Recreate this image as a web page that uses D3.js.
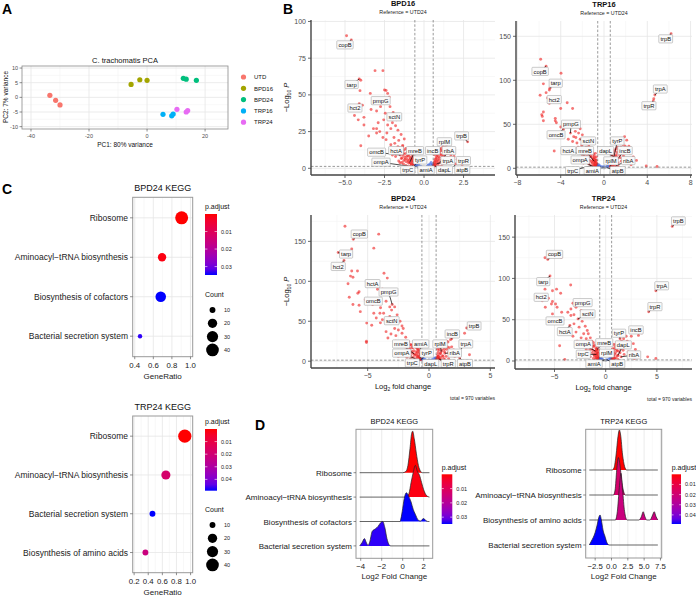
<!DOCTYPE html>
<html><head><meta charset="utf-8">
<script src="https://cdn.jsdelivr.net/npm/d3@7"></script>
<style>body{margin:0;background:#fff;} text{font-family:"Liberation Sans",Arial,Helvetica,sans-serif;}</style>
</head><body><svg id="c" width="696" height="598"></svg>
<script>
// ---------------- DATA ----------------
const pcaGroups = ["UTD","BPD16","BPD24","TRP16","TRP24"];
const pcaSampleGroup = ["UTD","UTD","UTD","BPD16","BPD16","BPD16","BPD24","BPD24","BPD24","TRP16","TRP16","TRP16","TRP24","TRP24","TRP24"];
const pcaPC1 = [-33.5,-31.5,-30,-5.5,-2.5,0,12.5,13.5,17,5.5,8.5,9,10.3,13.5,14];
const pcaPC2 = [0.7,-1,-2.6,4.4,6,5.8,6.5,6.2,5.8,-5.8,-6.3,-5.7,-4.1,-5,-4.5];
const pcaXTicks = [-40,-20,0,20];
const pcaYTicks = [-10,-5,0,5,10];

const FC_CUT = 0.58, P_CUT = 1.3;

const bpd16Points = [
[-4.9,90.3],[-4.6,87.4],[-3.1,66.5],[-2.6,66.5],[-4.1,60.8],[-4.0,60],[-4.05,52.9],[-3.4,51],[-2.5,53.3],[-2.4,53],[-2.3,51],[-2.2,48.5],[-4.1,44],[-3.9,43],[-4.4,36],[-3.8,34.7],[-4.16,33],[-3.8,29.5],[-3.35,40],[-3.0,39],[-3.0,27],[-3.2,27],[-3.0,24],[-2.8,25],[-2.75,42],[-2.45,37.5],[-2.2,34],[-2.3,29.5],[-2.1,27],[-2.0,31],[-1.8,29],[-1.65,26],[-1.45,23],[-1.9,21],[-1.6,19],[-1.25,20],[-4.0,15.4],[-2.4,19.5],[-2.1,16],[-1.65,14.7],[-1.35,14.7],[-1.15,13.5],[-0.95,12.5],[-2.6,45],[-2.15,42],[-1.95,38],[-2.55,33],[-2.9,31],[-1.75,33],[-2.35,24],[-2.6,21],[-3.5,22],[-1.85,17],
[-1.5,9],[-1.4,7],[-1.3,10],[-1.2,6],[-1.1,8],[-1.0,5],[-0.95,9],[-0.9,4],[-0.85,6.5],[-0.8,3],[-0.75,5],[-0.7,2],[-0.65,3.5],[-1.3,3],[-1.15,2],[-1.0,1.5],[-0.9,1],[-0.8,1.8],[-1.6,5],[-1.7,11],[-1.8,8],[-1.9,12],[-1.25,12.5],[-1.05,11],[-0.7,7],[-0.65,1.5],[-1.4,4],[-1.2,1],[-0.6,2.5],[-2.0,9],[-1.55,14],[-1.35,15.5],
[-0.62,1.6],[-0.66,2.8],[-0.72,4.2],[-0.78,5.5],[-0.84,3.2],[-0.88,7.5],[-0.92,5.8],[-0.98,3.6],[-1.02,8.4],[-1.08,6.2],[-1.12,4.4],[-1.18,10],[-1.22,7.4],[-1.28,5.2],[-1.32,8.8],[-1.38,11],[-1.44,6.6],[-1.48,12.2],[-1.52,3.8],[-1.58,10.4],[-0.68,6.4],[-0.74,8.2],[-0.8,10.2],[-0.86,1.4],
[-0.5,2],[-0.4,1.5],[-0.3,1.6],[-0.2,1.4],[0.2,1.5],[0.3,2.5],[0.4,3],[0.5,2],[0.45,4],[-0.45,3],[0.35,1.4],[-0.55,1.8],[-0.52,2.6],[-0.35,2.2],[0.55,2.8],[0.52,1.7],[0.25,2.0],
[-0.3,0.5],[0.1,0.3],[0.2,0.8],[-0.1,1],[0.0,0.6],[-0.4,0.9],[0.4,0.7],
[0.6,2],[0.65,4],[0.7,6],[0.75,3],[0.8,8],[0.85,5],[0.9,10],[0.95,7],[1.0,4],[1.05,12],[1.1,9],[1.15,6],[1.2,3],[1.25,11],[1.3,8],[1.35,14],[1.4,5],[1.5,10],[1.6,7],[1.7,9],[1.8,6],[0.7,1.5],[0.9,2],[1.1,1.5],[1.0,13],[0.85,11],[1.2,15],[1.45,12.5],[2.1,6.1],[2.4,2.5],[1.9,8],[2.0,3],[2.76,18],[1.22,19],
[0.62,1.6],[0.64,3.2],[0.68,5],[0.72,2.4],[0.76,7],[0.78,4.4],[0.82,9],[0.84,6],[0.88,3.4],[0.92,8],[0.96,11],[0.98,5.6],[1.02,9.6],[1.08,13.5],[1.12,7.6],[1.18,11.8],[1.22,8.8],[1.28,13],[1.32,5.4],[1.38,9.8],[1.42,16],[1.48,7.2],[1.55,11.5],[1.65,13.6],[0.66,9.2],[0.7,11.4]
];
const bpd16Labels = [
["copB",-5.0,84,-4.6,87.4],["tarp",-4.58,57,-4.1,60.8],["pmpG",-2.74,46,-2.6,45],["hct2",-4.37,41,-4.1,44],["sctN",-1.88,35,-1.95,38],
["omcB",-3.0,10.9,-1.5,9],["hctA",-1.77,12,-1.3,10],["mreB",-0.57,12,-0.9,4],["ompA",-2.72,4.1,-1.0,1.5],["tyrP",-0.25,5.6,-0.65,1.5],
["trpC",-1.03,-1.2,-0.7,2],["amiA",0.13,-1.2,0.6,2],["incB",0.55,12,0.9,10],["rplM",1.29,18,1.22,19],["ribA",1.58,12,1.0,4],
["trpA",1.5,5.2,0.8,3],["trpR",2.49,5.2,2.1,6.1],["dapL",1.29,-1.2,0.7,1.5],["atpB",2.42,-1.2,1.9,2],["trpB",2.38,22,2.76,18]
];

const trp16Points = [
[6.2,153],[4.7,83.3],[4.6,79],[4.55,76.5],
[-5.85,124],[-5.35,116],[-3.97,108],[-5.6,96],[-5.0,91],[-5.05,89],[-5.35,86],[-5.9,83],[-5.2,80],[-5.05,74],[-4.0,68],[-3.4,74.5],[-2.9,68],[-5.6,64],[-5.75,61],[-5.7,59],[-4.5,56.8],[-4.5,54],[-4.4,51.7],[-5.6,54],[-4.0,47],[-3.75,44.3],[-4.6,19.7],[-2.5,47.3],[-2.2,45],[-2.65,42],[-2.35,40],[-2.8,36],[-2.0,38],[-2.9,30.5],[-2.5,28.8],[-2.2,33],[-1.75,28.7],[-1.4,25],[-1.3,19.5],[-3.1,40],[-2.6,35],[-2.4,24],[-2.05,26],[-1.9,22],[-1.6,18],[-3.3,33],[-1.8,15],
[-1.5,12],[-1.3,9],[-1.2,14],[-1.1,6],[-1.0,10],[-0.95,4],[-0.9,8],[-0.85,2.5],[-0.8,6],[-0.75,3.5],[-0.7,1.8],[-0.65,5],[-1.4,5],[-1.2,3],[-1.0,2],[-0.9,12],[-1.6,8],[-1.7,11],[-1.35,16],[-1.05,17],[-0.75,9],[-0.62,2.2],[-2.0,14],[-1.9,6],
[-0.62,2],[-0.66,4],[-0.7,6.5],[-0.74,9],[-0.78,3],[-0.82,11],[-0.86,7],[-0.9,14],[-0.94,5],[-0.98,16],[-1.02,9],[-1.06,12],[-1.1,19],[-1.15,7.5],[-1.18,22],[-1.25,13],[-1.3,17],[-1.45,20],[-1.55,14],[-1.65,24],[-0.7,13],[-0.8,17],
[-0.5,2],[-0.4,3],[-0.3,1.8],[0.3,2],[0.4,3.5],[0.5,2.2],[-0.2,1.5],[0.2,1.6],[-0.55,2.5],[-0.5,4],[0.55,3],[0.52,4.5],[-0.1,1.6],[0.0,1.7],
[-0.2,0.5],[0.1,0.8],[0.0,0.3],
[0.6,2],[0.65,4],[0.7,6],[0.8,3],[0.85,9],[0.9,5],[1.0,12],[1.05,7],[1.1,3],[1.15,15],[1.2,10],[1.3,6],[1.4,18],[1.5,12],[1.6,8],[1.7,22],[1.8,14],[1.9,36],[2.1,32],[2.3,25],[2.0,20],[2.7,13],[3.0,9],[3.9,2.6],[4.9,2],[2.2,6],[2.5,4],[0.75,1.5],[1.0,1.8],[1.3,2.5],[2.4,17],[1.25,24],[1.55,28],
[0.62,2],[0.66,5],[0.7,8],[0.74,11],[0.78,6],[0.82,14],[0.86,3],[0.9,17],[0.95,10],[1.0,20],[1.05,14],[1.1,22],[1.15,6],[1.2,18],[1.25,12],[1.35,21],[1.45,15],[1.55,24],[1.65,17],[1.75,27],[1.85,18],[1.95,25],[0.7,15],[0.8,20]
];
const trp16Labels = [
["trpB",5.7,147,6.2,153],["trpA",5.2,90,4.7,83.3],["trpR",4.15,71,4.55,76.5],["copB",-5.9,110,-5.35,116],["tarp",-4.46,96.6,-5.0,91],
["hct2",-4.6,78,-5.05,74],["pmpG",-3.05,50,-3.1,40],["omcB",-4.43,38,-3.75,44.3],["sctN",-1.45,31,-2.2,33],["hctA",-3.3,20,-1.8,15],
["mreB",-1.75,20,-0.9,8],["dapL",0.15,20,1.0,12],["tyrP",1.23,31,0.85,9],["incB",1.94,20,1.2,10],["ompA",-2.2,9.4,-1.0,2],
["rplM",0.65,8.3,0.6,2],["ribA",2.24,8.6,1.1,3],["trpC",-2.9,-2.7,-1.2,3],["amiA",-1.08,-2.7,-0.3,1.8],["atpB",1.26,-2.7,0.3,0.5]
];

const bpd24Points = [
[-6.85,169],[-4.1,159],[-6.17,152.7],[-6.3,140.6],[-4.5,141.5],[-7.4,136],[-6.93,126],[-6.3,113],[-5.83,113],[-6.4,106.5],[-6.2,105],[-3.67,110],[-3.4,104],[-6.6,97],[-4.2,94.6],[-5.7,87],[-5.8,85],[-4.2,90],[-3.8,90],[-3.3,86],[-6.5,80],[-5.2,77],[-4.8,76],[-5.7,70],[-6.2,71],[-4.3,75],[-3.5,75],[-5.0,74],[-4.6,71],[-3.0,71],[-5.6,62],[-3.95,67],[-3.2,68],[-2.8,68],[-4.5,60],[-4.0,60],[-3.7,60],[-5.08,47.7],[-4.67,45],[-4.3,54],[-3.8,52],[-3.96,48],[-3.05,64],[-3.2,56],[-2.6,58],[-2.36,50],[-2.2,44],[-2.8,41],[-2.5,39],[-2.1,41],[-3.5,37],[-3.1,34],[-3.35,29],[-2.7,32],[-2.2,35],[-1.9,30],[-5.1,25],[-2.7,25],[-2.35,23],[-1.8,25],[-1.5,21],[-2.1,19],[-1.4,17],[-1.0,17],[-5.1,23.5],
[-1.9,14],[-1.7,10],[-1.6,16],[-1.5,7],[-1.4,12],[-1.3,5],[-1.2,9],[-1.1,3],[-1.0,7],[-0.95,11],[-0.9,4],[-0.8,6],[-0.75,2],[-0.7,4],[-0.65,1.8],[-1.25,2],[-1.5,3],[-1.8,5],[-2.0,9],[-0.85,14],[-1.15,19],[-0.7,9],[-2.3,12],[-2.5,6],[-1.05,1.6],
[-0.62,2],[-0.66,4],[-0.7,6.5],[-0.74,9],[-0.78,3],[-0.82,11],[-0.86,7],[-0.9,14],[-0.94,5],[-0.98,16],[-1.02,9],[-1.06,12],[-1.1,19],[-1.15,7.5],[-1.2,22],[-1.25,13],[-1.3,17],[-1.35,10],[-1.45,20],[-1.55,14],[-1.65,24],[-1.75,18],[-0.7,13],[-0.8,17],
[-0.5,2],[-0.4,3],[-0.3,1.8],[0.3,2],[0.4,3.5],[0.5,2.5],[0.2,1.6],[-0.55,2.5],[-0.5,4],[0.55,3],[0.52,4.5],[0.0,1.7],
[-0.1,0.6],[0.1,0.4],
[0.6,2],[0.7,4],[0.75,6],[0.8,3],[0.9,9],[0.95,5],[1.0,12],[1.1,7],[1.2,3],[1.25,15],[1.3,10],[1.4,6],[1.5,18],[1.6,11],[1.7,8],[1.85,28],[2.0,14],[2.1,6],[2.3,10],[2.5,4],[2.9,35],[3.07,41.5],[0.7,1.5],[1.0,2],[1.3,1.8],[1.6,3],[1.15,22],[1.45,25],[2.6,18],[3.3,8],
[0.62,2],[0.66,5],[0.7,8],[0.74,11],[0.78,6],[0.82,14],[0.86,3],[0.9,17],[0.95,10],[1.0,20],[1.05,14],[1.1,22],[1.15,6],[1.2,18],[1.25,12],[1.35,21],[1.45,15],[1.55,24],[1.65,17],[1.75,27],[1.85,18],[0.7,15],[0.8,20]
];
const bpd24Labels = [
["copB",-5.68,159,-6.17,152.7],["tarp",-6.76,134,-7.4,136],["hct2",-7.4,118.5,-6.93,126],["hctA",-4.6,97,-4.2,94.6],["pmpG",-3.3,86.5,-3.0,71],
["omcB",-4.54,75,-4.3,75],["sctN",-3.04,50.6,-3.2,56],["incB",1.9,34,1.85,28],["trpB",3.68,44,3.07,41.5],["mreB",-2.28,21.5,-1.2,9],
["amiA",-0.68,21.5,-0.7,4],["rplM",0.9,21.5,1.0,12],["trpA",3.0,21.5,2.3,10],["ompA",-2.22,10,-1.1,3],["tyrP",-0.19,10,-0.65,1.8],
["ribA",2.1,10,1.3,10],["trpC",-1.36,-2.3,-0.75,2],["dapL",0.14,-3,0.6,2],["trpR",1.57,-3,0.8,3],["atpB",2.93,-3,2.5,4]
];

const trp24Points = [
[6.5,163],[4.9,85],[4.2,59.7],
[-5.93,125],[-5.66,123],[-4.36,125.5],[-5.44,103],[-3.42,92],[-5.93,87],[-5.2,85],[-4.8,87],[-4.4,82],[-5.6,76],[-6.2,73],[-5.2,72],[-4.9,69],[-4.75,65],[-5.3,69],[-5.9,65],[-4.3,59],[-5.2,57],[-3.2,70],[-2.9,65],[-2.6,69],[-2.4,61],[-3.4,63],[-3.7,59],[-3.4,55],[-3.1,56],[-2.7,51],[-4.2,49],[-3.5,43],[-3.1,45],[-2.3,48],[-2.0,42],[-2.6,41],[-1.8,37],[-2.9,35],[-2.15,33],[-1.7,33],[-4.5,18.5],[-4.0,2],[-2.4,28],[-3.2,30],[-1.9,27],[-2.8,24],[-1.5,28],[-2.2,20],
[-1.6,22],[-1.4,15],[-1.3,10],[-1.2,18],[-1.1,6],[-1.0,12],[-0.95,4],[-0.9,8],[-0.8,2.5],[-0.75,5],[-0.7,1.8],[-0.65,3.5],[-1.5,5],[-1.2,3],[-1.0,2],[-0.85,14],[-1.7,9],[-1.9,14],[-1.35,24],[-0.8,10],[-2.0,6],
[-0.62,2],[-0.66,4],[-0.7,6.5],[-0.74,9],[-0.78,3],[-0.82,11],[-0.86,7],[-0.9,14],[-0.94,5],[-0.98,16],[-1.02,9],[-1.06,12],[-1.1,19],[-1.15,7.5],[-1.2,22],[-1.25,13],[-1.3,17],[-1.45,20],[-1.55,14],[-1.65,24],[-0.7,13],[-0.8,17],
[-0.5,2],[-0.4,3],[-0.3,1.8],[0.3,2],[0.4,3.5],[0.5,2.5],[0.1,1.5],[-0.55,2.5],[-0.5,4],[0.55,3],[0.52,4.5],
[0.0,0.5],[-0.2,0.8],
[1.4,27],[2.0,30],[2.5,30],[3.5,34],[4.1,5],[4.9,3],[0.6,2],[0.7,5],[0.8,3],[0.9,8],[1.0,4],[1.1,12],[1.2,7],[1.3,16],[1.4,10],[1.5,5],[1.6,20],[1.7,13],[1.8,8],[2.0,17],[2.2,11],[2.4,6],[2.7,21],[2.9,14],[3.1,9],[0.75,1.5],[1.2,2],[2.1,24],[3.2,31],[2.8,3],
[0.62,2],[0.66,5],[0.7,8],[0.74,11],[0.78,6],[0.82,14],[0.86,3],[0.9,17],[0.95,10],[1.0,20],[1.05,14],[1.1,22],[1.15,6],[1.2,18],[1.25,12],[1.35,21],[1.45,15],[1.55,24],[1.65,17],[1.75,27],[1.85,18],[0.7,15],[0.8,20]
];
const trp24Labels = [
["trpB",7.1,169.5,6.5,163],["trpA",5.47,91,4.9,85],["trpR",4.81,65.7,4.2,59.7],["copB",-5.0,129,-5.66,123],["tarp",-6.1,96,-5.44,103],
["hct2",-6.3,77,-6.2,73],["pmpG",-2.25,70.6,-2.6,69],["sctN",-1.76,57,-2.7,51],["omcB",-4.95,48.4,-4.2,49],["hctA",-4.0,35.5,-3.5,43],
["tyrP",1.3,33.5,1.4,27],["incB",2.96,37.5,3.5,34],["ompA",-2.19,20,-1.0,12],["mreB",-0.14,22,-0.85,14],["dapL",1.72,19.4,1.2,7],
["trpC",-2.19,8,-0.9,8],["rplM",0.1,9.3,0.7,5],["ribA",2.76,7.3,1.5,5],["amiA",-1.14,-3.6,-0.1,1.5],["atpB",1.13,-3.6,0.1,1.5]
];

// KEGG dot plots
const bpdKeggTerms = ["Ribosome","Aminoacyl\u2212tRNA biosynthesis","Biosynthesis of cofactors","Bacterial secretion system"];
const bpdKeggRatio = [0.905,0.694,0.68,0.457];
const bpdKeggCount = [42,16,26,9];
const bpdKeggPadj = [0.00002,0.001,0.0348,0.034];
const trpKeggTerms = ["Ribosome","Aminoacyl\u2212tRNA biosynthesis","Bacterial secretion system","Biosynthesis of amino acids"];
const trpKeggRatio = [0.918,0.65,0.46,0.36];
const trpKeggCount = [44,19,10,10];
const trpKeggPadj = [0.00002,0.018,0.049,0.022];
const countLegend = [10,20,30,40];

// ridge (GSEA) densities: [log2FC, relative density]
const bpdRidgeTerms = ["Ribosome","Aminoacyl\u2212tRNA biosynthesis","Biosynthesis of cofactors","Bacterial secretion system"];
const bpdRidgePadj = [0.00002,0.001,0.0348,0.034];
const bpdRidgeDens = [
 [[0.0,0],[0.3,0.05],[0.5,0.3],[0.7,1.0],[0.85,1.6],[0.95,1.7],[1.1,1.4],[1.3,0.8],[1.5,0.3],[1.7,0.06],[1.85,0]],
 [[0.35,0],[0.6,0.15],[0.8,0.6],[1.0,1.0],[1.2,1.3],[1.4,1.05],[1.6,0.9],[1.8,0.6],[2.0,0.3],[2.3,0.05],[2.55,0]],
 [[-0.25,0],[-0.05,0.4],[0.15,0.95],[0.35,1.18],[0.55,1.05],[0.8,0.8],[1.0,0.5],[1.2,0.3],[1.5,0.05],[1.7,0.02],[1.85,0.08],[2.0,0.12],[2.2,0.04],[2.4,0]],
 [[-4.1,0],[-3.85,0.15],[-3.65,0.3],[-3.45,0.12],[-3.3,0.02],[-3.15,0.15],[-2.9,0.6],[-2.6,0.7],[-2.35,0.8],[-2.1,0.95],[-1.9,1.0],[-1.7,0.75],[-1.5,0.3],[-1.3,0.05],[-1.15,0]]
];
const bpdRidgeRange = [-4.1,2.55];
const trpRidgeTerms = ["Ribosome","Aminoacyl\u2212tRNA biosynthesis","Biosynthesis of amino acids","Bacterial secretion system"];
const trpRidgePadj = [0.00002,0.018,0.022,0.049];
const trpRidgeDens = [
 [[0.1,0],[0.4,0.1],[0.7,0.6],[1.0,1.35],[1.2,1.6],[1.4,1.4],[1.7,0.6],[2.0,0.15],[2.3,0]],
 [[0.3,0],[0.55,0.2],[0.8,1.0],[1.05,1.5],[1.3,1.2],[1.55,0.6],[1.8,0.2],[2.1,0]],
 [[0.6,0],[0.9,0.35],[1.2,1.3],[1.45,1.87],[1.7,1.2],[2.0,0.35],[2.4,0],[4.2,0],[4.6,0.15],[4.85,0.33],[5.1,0.15],[5.4,0],[5.9,0],[6.3,0.2],[6.55,0.33],[6.8,0.15],[7.1,0]],
 [[-3.4,0],[-3.1,0.15],[-2.8,0.3],[-2.5,0.5],[-2.2,0.8],[-1.95,1.1],[-1.75,1.2],[-1.55,1.0],[-1.3,0.6],[-1.0,0.35],[-0.7,0.1],[-0.4,0]]
];
const trpRidgeRange = [-3.4,7.1];

// ---------------- DRAW ----------------
const svg = d3.select("#c");
const MAJ = "#e6e6e6", MIN = "#f4f4f4";

function T(g, x, y, s, o = {}) {
  const t = g.append("text").attr("x", x).attr("y", y).text(s)
    .attr("font-size", o.size || 7).attr("fill", o.fill || "#222")
    .attr("text-anchor", o.anchor || "start");
  if (o.bold) t.attr("font-weight", "bold");
  if (o.rot) t.attr("transform", `rotate(-90,${x},${y})`);
  return t;
}
function minors(ticks, dom) {
  const s = ticks[1] - ticks[0], lo = Math.min(...dom), hi = Math.max(...dom);
  let v = ticks[0] - s / 2; while (v - s >= lo) v -= s;
  const out = []; for (; v <= hi; v += s) if (v >= lo) out.push(v);
  return out;
}
function grid(g, x, y, xt, yt) {
  const [l, r] = x.range(), [b, t] = y.range();
  minors(xt, x.domain()).forEach(v => g.append("line").attr("x1", x(v)).attr("x2", x(v)).attr("y1", t).attr("y2", b).attr("stroke", MIN).attr("stroke-width", 0.6));
  if (yt) minors(yt, y.domain()).forEach(v => g.append("line").attr("y1", y(v)).attr("y2", y(v)).attr("x1", l).attr("x2", r).attr("stroke", MIN).attr("stroke-width", 0.6));
  xt.forEach(v => g.append("line").attr("x1", x(v)).attr("x2", x(v)).attr("y1", t).attr("y2", b).attr("stroke", MAJ).attr("stroke-width", 0.8));
  if (yt) yt.forEach(v => g.append("line").attr("y1", y(v)).attr("y2", y(v)).attr("x1", l).attr("x2", r).attr("stroke", MAJ).attr("stroke-width", 0.8));
}
const minus = s => s.replace("-", "\u2212");

// Panel letters
T(svg, 2, 14, "A", {size: 14, bold: true, fill: "#000"});
T(svg, 283, 14, "B", {size: 14, bold: true, fill: "#000"});
T(svg, 2, 194, "C", {size: 14, bold: true, fill: "#000"});
T(svg, 255, 430, "D", {size: 14, bold: true, fill: "#000"});

// ---- Panel A: PCA ----
(function () {
  const g = svg.append("g");
  const x = d3.scaleLinear().domain([-43.1, 27.9]).range([22, 228]);
  const y = d3.scaleLinear().domain([-10.8, 10.7]).range([129, 66]);
  const col = d3.scaleOrdinal().domain(pcaGroups).range(["#F8766D", "#A3A500", "#00BF7D", "#00B0F6", "#E76BF3"]);
  grid(g, x, y, pcaXTicks, pcaYTicks);
  g.append("rect").attr("x", 22).attr("y", 66).attr("width", 206).attr("height", 63).attr("fill", "none").attr("stroke", "#8a8a8a").attr("stroke-width", 0.8);
  pcaXTicks.forEach(v => {
    g.append("line").attr("x1", x(v)).attr("x2", x(v)).attr("y1", 129).attr("y2", 131.5).attr("stroke", "#444").attr("stroke-width", 0.6);
    T(g, x(v), 138, String(v), {size: 5.5, fill: "#4d4d4d", anchor: "middle"});
  });
  pcaYTicks.forEach(v => {
    g.append("line").attr("x1", 19.5).attr("x2", 22).attr("y1", y(v)).attr("y2", y(v)).attr("stroke", "#444").attr("stroke-width", 0.6);
    T(g, 18, y(v) + 2, String(v), {size: 5.5, fill: "#4d4d4d", anchor: "end"});
  });
  pcaPC1.forEach((v, i) => g.append("circle").attr("cx", x(v)).attr("cy", y(pcaPC2[i])).attr("r", 2.6).attr("fill", col(pcaSampleGroup[i])));
  T(g, 125, 63, "C. trachomatis PCA", {size: 7.5, fill: "#111", anchor: "middle"});
  T(g, 125, 147, "PC1: 80% variance", {size: 6.5, fill: "#111", anchor: "middle"});
  T(g, 8, 97, "PC2: 7% variance", {size: 6.5, fill: "#111", anchor: "middle", rot: true});
  pcaGroups.forEach((gr, i) => {
    const yy = 77 + i * 11.3;
    g.append("circle").attr("cx", 243.5).attr("cy", yy).attr("r", 2.6).attr("fill", col(gr));
    T(g, 254, yy + 2.2, gr, {size: 6, fill: "#111"});
  });
})();

// ---- Panel B: volcano plots ----
function volcano(c) {
  const g = svg.append("g");
  const x = d3.scaleLinear().domain(c.xd).range([c.l, c.r]);
  const y = d3.scaleLinear().domain(c.yd).range([c.b, c.t]);
  grid(g, x, y, c.xt, c.yt);
  c.pts.forEach(([a, b]) => {
    let col = "#9a9a9a";
    if (b > P_CUT && Math.abs(a) > FC_CUT) col = "#ee1c1c";
    else if (b > P_CUT) col = "#4169e1";
    g.append("circle").attr("cx", x(a)).attr("cy", y(b)).attr("r", 1.45).attr("fill", col).attr("fill-opacity", 0.6);
  });
  [-FC_CUT, FC_CUT].forEach(v => g.append("line").attr("x1", x(v)).attr("x2", x(v)).attr("y1", c.t).attr("y2", c.b).attr("stroke", "#555").attr("stroke-width", 0.6).attr("stroke-dasharray", "2.5,1.8"));
  g.append("line").attr("x1", c.l).attr("x2", c.r).attr("y1", y(P_CUT)).attr("y2", y(P_CUT)).attr("stroke", "#555").attr("stroke-width", 0.6).attr("stroke-dasharray", "2.5,1.8");
  c.labels.forEach(([n, lx, ly, ax, ay]) => g.append("line").attr("x1", x(lx)).attr("y1", y(ly)).attr("x2", x(ax)).attr("y2", y(ay)).attr("stroke", "#000").attr("stroke-width", 0.7));
  c.labels.forEach(([n, lx, ly]) => {
    const lg = g.append("g");
    const t = T(lg, x(lx), y(ly) + 2, n, {size: 5.8, fill: "#111", anchor: "middle"});
    const w = t.node().getComputedTextLength();
    lg.insert("rect", "text").attr("x", x(lx) - w / 2 - 1.6).attr("y", y(ly) - 4.2).attr("width", w + 3.2).attr("height", 8.2)
      .attr("fill", "#fafafa").attr("stroke", "#9a9a9a").attr("stroke-width", 0.5).attr("rx", 0.8);
  });
  g.append("line").attr("x1", c.l).attr("x2", c.l).attr("y1", c.t).attr("y2", c.b).attr("stroke", "#444").attr("stroke-width", 1.4);
  g.append("line").attr("x1", c.l).attr("x2", c.r).attr("y1", c.b).attr("y2", c.b).attr("stroke", "#444").attr("stroke-width", 1.4);
  c.yt.forEach(v => {
    g.append("line").attr("x1", c.l - 3).attr("x2", c.l).attr("y1", y(v)).attr("y2", y(v)).attr("stroke", "#444").attr("stroke-width", 0.8);
    T(g, c.l - 5, y(v) + 2.5, String(v), {size: 7, fill: "#4d4d4d", anchor: "end"});
  });
  c.xt.forEach(v => {
    g.append("line").attr("x1", x(v)).attr("x2", x(v)).attr("y1", c.b).attr("y2", c.b + 3).attr("stroke", "#444").attr("stroke-width", 0.8);
    T(g, x(v), c.b + 10, minus(c.xf(v)), {size: 7, fill: "#4d4d4d", anchor: "middle"});
  });
  const cx = (c.l + c.r) / 2;
  T(g, cx, c.t - 14, c.title, {size: 7.5, bold: true, fill: "#111", anchor: "middle"});
  T(g, cx, c.t - 6, "Reference = UTD24", {size: 5.3, fill: "#222", anchor: "middle"});
  if (c.yTitle) {
    const cy = (c.t + c.b) / 2;
    const t = g.append("text").attr("transform", `translate(${c.l - 22},${cy}) rotate(-90)`).attr("text-anchor", "middle").attr("font-size", 7.5).attr("fill", "#111");
    t.append("tspan").text("\u2212Log");
    t.append("tspan").text("10").attr("font-size", 5).attr("dy", 2);
    t.append("tspan").text(" P").attr("font-style", "italic").attr("dy", -2);
  }
  if (c.xTitle) {
    const t = g.append("text").attr("x", cx).attr("y", c.b + 21).attr("text-anchor", "middle").attr("font-size", 7.5).attr("fill", "#111");
    t.append("tspan").text("Log");
    t.append("tspan").text("2").attr("font-size", 5).attr("dy", 2);
    t.append("tspan").text(" fold change").attr("dy", -2);
    T(g, c.r, c.b + 32, "total = 970 variables", {size: 5, fill: "#222", anchor: "end"});
  }
}
const f1 = d3.format(".1f"), f0 = d3.format("d");
volcano({title: "BPD16", l: 311, r: 495, t: 20, b: 175, xd: [-7.15, 4.49], yd: [-4.56, 101], xt: [-5, -2.5, 0, 2.5], yt: [0, 25, 50, 75, 100], xf: f1, pts: bpd16Points, labels: bpd16Labels, yTitle: true});
volcano({title: "TRP16", l: 516, r: 692, t: 21, b: 175, xd: [-8.13, 8.13], yd: [-7.6, 167.4], xt: [-8, -4, 0, 4, 8], yt: [0, 50, 100, 150], xf: f0, pts: trp16Points, labels: trp16Labels});
volcano({title: "BPD24", l: 311, r: 495, t: 215, b: 368, xd: [-9.62, 5.38], yd: [-8.5, 183], xt: [-5, 0, 5], yt: [0, 50, 100, 150], xf: f0, pts: bpd24Points, labels: bpd24Labels, yTitle: true, xTitle: true});
volcano({title: "TRP24", l: 515, r: 692, t: 215, b: 369, xd: [-8.86, 8.43], yd: [-9.7, 176.8], xt: [-5, 0, 5], yt: [0, 50, 100, 150], xf: f0, pts: trp24Points, labels: trp24Labels, xTitle: true});

// ---- colour & size legends ----
let gradId = 0;
function colorbar(g, x, top, bot, w, dom, ticks, titleY) {
  const id = "grad" + (gradId++);
  const col = d3.scaleLinear().domain([0, 1]).range(["red", "blue"]).interpolate(d3.interpolateLab);
  const lg = svg.append("defs").append("linearGradient").attr("id", id).attr("x1", 0).attr("x2", 0).attr("y1", 0).attr("y2", 1);
  d3.range(0, 1.0001, 0.1).forEach(s => lg.append("stop").attr("offset", s).attr("stop-color", col(s)));
  T(g, x, titleY, "p.adjust", {size: 7, fill: "#111"});
  g.append("rect").attr("x", x).attr("y", top).attr("width", w).attr("height", bot - top).attr("fill", `url(#${id})`);
  const ys = d3.scaleLinear().domain(dom).range([top, bot]);
  ticks.forEach(v => {
    g.append("line").attr("x1", x).attr("x2", x + w * 0.2).attr("y1", ys(v)).attr("y2", ys(v)).attr("stroke", "#fff").attr("stroke-width", 0.6);
    g.append("line").attr("x1", x + w * 0.8).attr("x2", x + w).attr("y1", ys(v)).attr("y2", ys(v)).attr("stroke", "#fff").attr("stroke-width", 0.6);
    T(g, x + w + 4, ys(v) + 2, d3.format(".2f")(v), {size: 5.5, fill: "#222"});
  });
}
function pColor(dom) {
  return d3.scaleLinear().domain(dom).range(["red", "blue"]).interpolate(d3.interpolateLab).clamp(true);
}
const rScale = d3.scaleLinear().domain([0, 1]).range([2.2, 6.6]);
const cMin = 9, cMax = 44;
const rad = c => rScale(Math.sqrt(Math.max(0, c - cMin) / (cMax - cMin)));

function dotplot(c) {
  const g = svg.append("g");
  const x = d3.scaleLinear().domain(c.xd).range([132.7, 192.7]);
  const y = d3.scalePoint().domain(c.terms).range([c.t, c.b]).padding(0.52);
  minors(c.xt, c.xd).forEach(v => g.append("line").attr("x1", x(v)).attr("x2", x(v)).attr("y1", c.t).attr("y2", c.b).attr("stroke", MIN).attr("stroke-width", 0.6));
  c.xt.forEach(v => g.append("line").attr("x1", x(v)).attr("x2", x(v)).attr("y1", c.t).attr("y2", c.b).attr("stroke", MAJ).attr("stroke-width", 0.8));
  c.terms.forEach(t => g.append("line").attr("x1", 132.7).attr("x2", 192.7).attr("y1", y(t)).attr("y2", y(t)).attr("stroke", MAJ).attr("stroke-width", 0.8));
  const col = pColor(c.pdom);
  const order = d3.range(c.terms.length).sort((a, b) => c.count[b] - c.count[a]);
  order.forEach(i => g.append("circle").attr("cx", x(c.ratio[i])).attr("cy", y(c.terms[i])).attr("r", rad(c.count[i])).attr("fill", col(c.padj[i])));
  g.append("rect").attr("x", 132.7).attr("y", c.t).attr("width", 60).attr("height", c.b - c.t).attr("fill", "none").attr("stroke", "#999").attr("stroke-width", 1);
  c.terms.forEach(t => {
    g.append("line").attr("x1", 130).attr("x2", 132.7).attr("y1", y(t)).attr("y2", y(t)).attr("stroke", "#444").attr("stroke-width", 0.6);
    T(g, 128, y(t) + 3, t, {size: 8.5, fill: "#222", anchor: "end"});
  });
  c.xt.forEach(v => {
    g.append("line").attr("x1", x(v)).attr("x2", x(v)).attr("y1", c.b).attr("y2", c.b + 2.5).attr("stroke", "#444").attr("stroke-width", 0.6);
    T(g, x(v), c.b + 11, d3.format(".1f")(v), {size: 7.8, fill: "#222", anchor: "middle"});
  });
  T(g, 162.7, c.b + 22, "GeneRatio", {size: 8, fill: "#222", anchor: "middle"});
  T(g, 162.7, c.t - 6, c.title, {size: 9, fill: "#111", anchor: "middle"});
  colorbar(g, 205, c.cbTop, c.cbBot, 12, c.pdom, c.pticks, c.cbTop - 5);
  T(g, 205, c.countY, "Count", {size: 7, fill: "#111"});
  countLegend.forEach((v, i) => {
    const yy = c.countY + 13 + i * c.countStep;
    g.append("circle").attr("cx", 212.5).attr("cy", yy).attr("r", rad(v)).attr("fill", "#000");
    T(g, 224, yy + 2, String(v), {size: 5.5, fill: "#222"});
  });
}
dotplot({title: "BPD24 KEGG", terms: bpdKeggTerms, ratio: bpdKeggRatio, count: bpdKeggCount, padj: bpdKeggPadj, t: 197.3, b: 356.7,
  xd: [0.378, 1.024], xt: [0.4, 0.6, 0.8, 1.0], pdom: [0.0, 0.0348], pticks: [0.01, 0.02, 0.03], cbTop: 214, cbBot: 275, countY: 297, countStep: 13.3});
dotplot({title: "TRP24 KEGG", terms: trpKeggTerms, ratio: trpKeggRatio, count: trpKeggCount, padj: trpKeggPadj, t: 416, b: 572.7,
  xd: [0.18, 1.03], xt: [0.2, 0.4, 0.6, 0.8, 1.0], pdom: [0.0, 0.049], pticks: [0.01, 0.02, 0.03, 0.04], cbTop: 429, cbBot: 490.7, countY: 512, countStep: 13.3});

// ---- Panel D: ridgelines ----
function ridges(c) {
  const g = svg.append("g");
  const x = d3.scaleLinear().domain(c.xd).range([c.l, c.r]);
  const y = d3.scalePoint().domain(c.terms).range([c.y0, c.y0 + 3 * c.step]);
  const h = d3.scaleLinear().domain([0, 1]).range([0, c.step]);
  minors(c.xt, c.xd).forEach(v => g.append("line").attr("x1", x(v)).attr("x2", x(v)).attr("y1", c.t).attr("y2", c.b).attr("stroke", MIN).attr("stroke-width", 0.6));
  c.xt.forEach(v => g.append("line").attr("x1", x(v)).attr("x2", x(v)).attr("y1", c.t).attr("y2", c.b).attr("stroke", MAJ).attr("stroke-width", 0.8));
  const col = pColor(c.pdom);
  c.terms.forEach((t, i) => {
    const base = y(t);
    const full = [[c.range[0], 0], ...c.dens[i], [c.range[1], 0]].sort((a, b) => a[0] - b[0]);
    const area = d3.area().x(d => x(d[0])).y0(base).y1(d => base - h(d[1])).curve(d3.curveMonotoneX);
    const line = d3.line().x(d => x(d[0])).y(d => base - h(d[1])).curve(d3.curveMonotoneX);
    g.append("path").attr("d", area(c.dens[i])).attr("fill", col(c.padj[i]));
    g.append("path").attr("d", line(full)).attr("fill", "none").attr("stroke", "#222").attr("stroke-width", 0.7);
  });
  g.append("rect").attr("x", c.l).attr("y", c.t).attr("width", c.r - c.l).attr("height", c.b - c.t).attr("fill", "none").attr("stroke", "#999").attr("stroke-width", 1);
  c.terms.forEach(t => {
    g.append("line").attr("x1", c.l - 2.5).attr("x2", c.l).attr("y1", y(t)).attr("y2", y(t)).attr("stroke", "#444").attr("stroke-width", 0.6);
    T(g, c.l - 4, y(t) + 3, t, {size: 8, fill: "#222", anchor: "end"});
  });
  c.xt.forEach(v => {
    g.append("line").attr("x1", x(v)).attr("x2", x(v)).attr("y1", c.b).attr("y2", c.b + 2.5).attr("stroke", "#444").attr("stroke-width", 0.6);
    T(g, x(v), c.b + 11, minus(c.xf(v)), {size: 7.8, fill: "#222", anchor: "middle"});
  });
  T(g, (c.l + c.r) / 2, c.b + 21, "Log2 Fold Change", {size: 8, fill: "#222", anchor: "middle"});
  T(g, (c.l + c.r) / 2, c.t - 5, c.title, {size: 7.5, fill: "#111", anchor: "middle"});
  colorbar(g, c.cbx, 474.3, 524, c.cbw, c.pdom, c.pticks, 470);
}
ridges({title: "BPD24 KEGG", terms: bpdRidgeTerms, padj: bpdRidgePadj, dens: bpdRidgeDens, range: bpdRidgeRange,
  l: 356, r: 432.7, t: 429.3, b: 558.3, y0: 472.7, step: 24.4, xd: [-4.45, 2.86], xt: [-4, -2, 0, 2], xf: f0,
  pdom: [0.0, 0.0348], pticks: [0.01, 0.02, 0.03], cbx: 441.7, cbw: 10.6});
ridges({title: "TRP24 KEGG", terms: trpRidgeTerms, padj: trpRidgePadj, dens: trpRidgeDens, range: trpRidgeRange,
  l: 585.7, r: 661.7, t: 429.3, b: 558, y0: 470, step: 25, xd: [-3.95, 7.69], xt: [-2.5, 0, 2.5, 5, 7.5], xf: f1,
  pdom: [0.0, 0.049], pticks: [0.01, 0.02, 0.03, 0.04], cbx: 671.7, cbw: 9.3});
</script></body></html>
